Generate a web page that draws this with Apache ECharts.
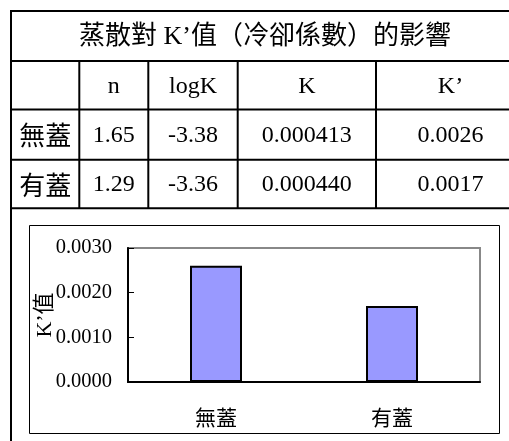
<!DOCTYPE html>
<html>
<head>
<meta charset="utf-8">
<script src="https://cdn.jsdelivr.net/npm/echarts@6/dist/echarts.min.js"></script>
<style>
  html, body { margin: 0; padding: 0; background: #fff; overflow: hidden; }
  #chart { width: 509px; height: 441px; }
</style>
</head>
<body>
<div id="chart"></div>
<script>
// Table contents
const tableTitle = '蒸散對 K’值（冷卻係數）的影響';
const colHeaders = ['n', 'logK', 'K', 'K’'];
const rowLabels = ['無蓋', '有蓋'];
const nValues = ['1.65', '1.29'];
const logKValues = ['-3.38', '-3.36'];
const kValues = ['0.000413', '0.000440'];
// K' (cooling coefficient), shown in the table and as bars
const kPrimeValues = [0.0026, 0.0017];
const axisName = 'K’值';

const SERIF = "'Liberation Serif', 'Noto Sans CJK TC', serif";
const CJK = "'Noto Sans CJK TC', 'Liberation Serif', sans-serif";

// table grid geometry
const colX = [11, 79.3, 148.3, 237.7, 376, 525];
const rowY = [11, 61, 109.5, 159.7, 208.3];

const graphics = [];
function hLine(x1, x2, y) {
  graphics.push({ type: 'line', shape: { x1, y1: y, x2, y2: y }, style: { stroke: '#000', lineWidth: 2 }, silent: true });
}
function vLine(x, y1, y2) {
  graphics.push({ type: 'line', shape: { x1: x, y1, x2: x, y2 }, style: { stroke: '#000', lineWidth: 2 }, silent: true });
}
function cellText(text, cx, cy, size, family) {
  graphics.push({
    type: 'text', x: cx, y: cy, silent: true,
    style: { text, fill: '#000', font: size + 'px ' + family, align: 'center', verticalAlign: 'middle' }
  });
}

rowY.forEach(y => hLine(10, 530, y));
vLine(11, 10, 445);
for (let i = 1; i < colX.length; i++) vLine(colX[i], rowY[1], rowY[4]);

cellText(tableTitle, 265, (rowY[0] + rowY[1]) / 2 + 1, 26, SERIF);
colHeaders.forEach((h, i) => cellText(h, (colX[i + 1] + colX[i + 2]) / 2, (rowY[1] + rowY[2]) / 2 + 1, 24, SERIF));
rowLabels.forEach((lab, r) => {
  const cy = (rowY[r + 2] + rowY[r + 3]) / 2 + 1;
  const cells = [nValues[r], logKValues[r], kValues[r], kPrimeValues[r].toFixed(4)];
  cellText(lab, (colX[0] + colX[1]) / 2, cy, 26, CJK);
  cells.forEach((v, i) => cellText(v, (colX[i + 1] + colX[i + 2]) / 2, cy, 24, SERIF));
});

// frame around the embedded chart
graphics.push({
  type: 'rect', silent: true, z: -1,
  shape: { x: 29.5, y: 225.5, width: 470, height: 208 },
  style: { fill: '#fff', stroke: '#000', lineWidth: 1 }
});

const chart = echarts.init(document.getElementById('chart'), null, { renderer: 'canvas' });
chart.setOption({
  animation: false,
  backgroundColor: '#fff',
  graphic: graphics,
  grid: {
    left: 128, top: 248, width: 352, height: 134,
    show: true, borderColor: '#888', borderWidth: 2, backgroundColor: 'transparent'
  },
  xAxis: {
    type: 'category',
    data: rowLabels,
    axisLine: { lineStyle: { color: '#000', width: 2 } },
    axisTick: { inside: true, length: 6, lineStyle: { color: '#000', width: 1 } },
    axisLabel: { color: '#000', fontSize: 21, fontFamily: CJK, margin: 25 },
    splitLine: { show: false }
  },
  yAxis: {
    type: 'value',
    min: 0, max: 0.003, interval: 0.001,
    name: axisName,
    nameLocation: 'middle',
    nameRotate: 90,
    nameGap: 72,
    nameMoveOverlap: false,
    nameTextStyle: { color: '#000', fontSize: 22, fontFamily: SERIF },
    axisLine: { show: true, lineStyle: { color: '#000', width: 2 } },
    axisTick: { show: true, inside: true, length: 6, lineStyle: { color: '#000', width: 1 } },
    axisLabel: { color: '#000', fontSize: 20.5, fontFamily: SERIF, margin: 16, formatter: v => v.toFixed(4) },
    splitLine: { show: false }
  },
  series: [{
    type: 'bar',
    data: kPrimeValues,
    barWidth: 52,
    itemStyle: { color: '#9999FF', borderColor: '#000', borderWidth: 2 }
  }]
});
</script>
</body>
</html>
